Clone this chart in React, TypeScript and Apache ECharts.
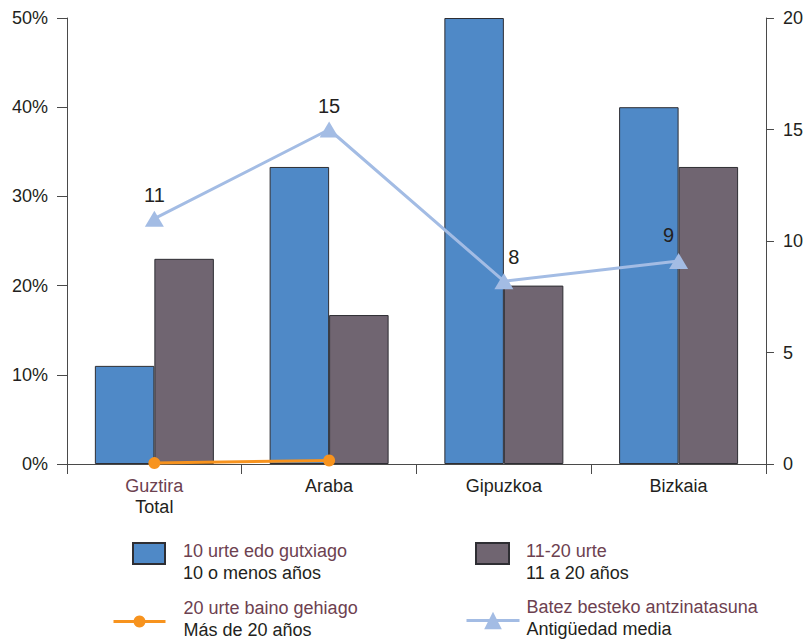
import React, { useEffect, useRef } from "react";
import * as echarts from "echarts";

// ---- Data ----
const categories = ["Guztira", "Araba", "Gipuzkoa", "Bizkaia"];
const categorySubLabels = ["Total", "", "", ""];
const lessThan10 = [11, 33.3, 50, 40]; // %
const from11to20 = [23, 16.7, 20, 33.3]; // %
const over20 = [0.1, 0.4, null, null]; // %
const avgSeniority = [11, 15, 8.2, 9.1]; // years
const leftTicks = { min: 0, max: 50, interval: 10 };
const rightTicks = { min: 0, max: 20, interval: 5 };

const seriesNames = [
  "10 urte edo gutxiago",
  "11-20 urte",
  "20 urte baino gehiago",
  "Batez besteko antzinatasuna",
];
const seriesSpanish = [
  "10 o menos años",
  "11 a 20 años",
  "Más de 20 años",
  "Antigüedad media",
];

const FONT = "'Liberation Sans', Helvetica, Arial, sans-serif";
const BLUE = "#4f89c7";
const GRAY = "#706571";
const ORANGE = "#f7931e";
const LIGHTBLUE = "#a3bce4";
const MAROON = "#6d4150";
const DARK = "#231f20";
const AXIS = "#4a4a4a";

function legendFormatter(topPad: number, bottomPad: number) {
  return (name: string) => {
    const i = seriesNames.indexOf(name);
    const t = topPad > 0 ? "{e| }\n" : "";
    const b = bottomPad > 0 ? "\n{f| }" : "";
    return `${t}{s| }{a|${name}}\n{s| }{b|${seriesSpanish[i]}}${b}`;
  };
}

function legendRich(topPad: number, bottomPad: number, spacer: number) {
  return {
    e: { lineHeight: topPad, height: topPad, fontSize: 1 },
    f: { lineHeight: bottomPad, height: bottomPad, fontSize: 1 },
    s: { width: spacer, fontSize: 18, lineHeight: 22 },
    a: { color: MAROON, fontSize: 18, lineHeight: 22, fontFamily: FONT },
    b: { color: DARK, fontSize: 18, lineHeight: 22, fontFamily: FONT },
  };
}

export default function App() {
  const ref = useRef<HTMLDivElement>(null);
  useEffect(() => {
    if (!ref.current) return;
    const chart = echarts.init(ref.current, null, { renderer: "svg" });
    const labelOffsets: number[][] = [
      [0, 0],
      [0, 0],
      [10, 0],
      [-10, -2],
    ];
    const option: any = {
      animation: false,
      backgroundColor: "#ffffff",
      textStyle: { fontFamily: FONT },
      grid: { left: 67, right: 40, top: 18, bottom: 180, containLabel: false },
      legend: [
        {
          data: [seriesNames[0]],
          left: 132,
          top: 523,
          padding: 0,
          icon: "rect",
          itemWidth: 32,
          itemHeight: 21,
          selectedMode: false,
          formatter: legendFormatter(17, 0),
          textStyle: { rich: legendRich(17, 0, 13) },
        },
        {
          data: [seriesNames[1]],
          left: 475,
          top: 523,
          padding: 0,
          icon: "rect",
          itemWidth: 33,
          itemHeight: 21,
          selectedMode: false,
          formatter: legendFormatter(17, 0),
          textStyle: { rich: legendRich(17, 0, 12) },
        },
        {
          data: [seriesNames[2]],
          left: 112,
          top: 599,
          padding: 0,
          itemWidth: 52,
          itemHeight: 15,
          selectedMode: false,
          lineStyle: { width: 3 },
          formatter: legendFormatter(0, 5),
          textStyle: { rich: legendRich(0, 5, 13) },
        },
        {
          data: [seriesNames[3]],
          left: 465,
          top: 598,
          padding: 0,
          itemWidth: 53,
          itemHeight: 22,
          selectedMode: false,
          lineStyle: { width: 3 },
          formatter: legendFormatter(0, 5),
          textStyle: { rich: legendRich(0, 5, 2) },
        },
      ],
      xAxis: [
        {
          type: "category",
          data: categories,
          position: "bottom",
          axisLine: { show: true, lineStyle: { color: AXIS, width: 1 } },
          axisTick: { show: true, length: 10, inside: false, lineStyle: { color: AXIS } },
          axisLabel: {
            margin: 11,
            formatter: (v: string) => {
              const i = categories.indexOf(v);
              const sub = categorySubLabels[i];
              return sub ? `{m|${v}}\n{d|${sub}}` : `{d|${v}}`;
            },
            rich: {
              m: { color: MAROON, fontSize: 18, lineHeight: 21, fontFamily: FONT },
              d: { color: DARK, fontSize: 18, lineHeight: 21, fontFamily: FONT },
            },
          },
          splitLine: { show: false },
        },
        {
          type: "category",
          data: categories,
          position: "top",
          axisLine: { show: true, lineStyle: { color: AXIS, width: 1 } },
          axisTick: { show: false },
          axisLabel: { show: false },
          splitLine: { show: false },
        },
      ],
      yAxis: [
        {
          type: "value",
          min: leftTicks.min,
          max: leftTicks.max,
          interval: leftTicks.interval,
          position: "left",
          axisLine: { show: true, lineStyle: { color: AXIS, width: 1 } },
          axisTick: { show: true, length: 10, inside: false, lineStyle: { color: AXIS } },
          axisLabel: {
            formatter: "{value}%",
            margin: 19,
            color: DARK,
            fontSize: 18,
            fontFamily: FONT,
          },
          splitLine: { show: false },
        },
        {
          type: "value",
          min: rightTicks.min,
          max: rightTicks.max,
          interval: rightTicks.interval,
          position: "right",
          axisLine: { show: true, lineStyle: { color: AXIS, width: 1 } },
          axisTick: { show: true, length: 8, inside: false, lineStyle: { color: AXIS } },
          axisLabel: {
            margin: 17,
            color: DARK,
            fontSize: 18,
            fontFamily: FONT,
          },
          splitLine: { show: false },
        },
      ],
      series: [
        {
          name: seriesNames[0],
          type: "bar",
          data: lessThan10,
          barWidth: 59.5,
          barGap: "0%",
          itemStyle: { color: BLUE, borderColor: "#2e2e33", borderWidth: 1 },
        },
        {
          name: seriesNames[1],
          type: "bar",
          data: from11to20,
          barWidth: 59.5,
          barGap: "0%",
          itemStyle: { color: GRAY, borderColor: "#2e2e33", borderWidth: 1 },
        },
        {
          name: seriesNames[2],
          type: "line",
          data: over20,
          yAxisIndex: 0,
          symbol: "circle",
          symbolSize: 12,
          itemStyle: { color: ORANGE },
          lineStyle: { color: ORANGE, width: 3 },
          z: 5,
        },
        {
          name: seriesNames[3],
          type: "line",
          data: avgSeniority.map((v, i) => ({
            value: v,
            label: { offset: labelOffsets[i] },
          })),
          yAxisIndex: 1,
          symbol: "triangle",
          symbolSize: [19, 16],
          itemStyle: { color: LIGHTBLUE },
          lineStyle: { color: LIGHTBLUE, width: 3 },
          z: 6,
          label: {
            show: true,
            position: "top",
            distance: 6,
            color: DARK,
            fontSize: 20,
            fontFamily: FONT,
            formatter: (p: any) => String(Math.round(p.value)),
          },
        },
      ],
    };
    chart.setOption(option);
    return () => chart.dispose();
  }, []);
  return (
    <div
      ref={ref}
      style={{ position: "absolute", left: 0, top: 0, width: 806, height: 644, background: "#fff" }}
    />
  );
}
